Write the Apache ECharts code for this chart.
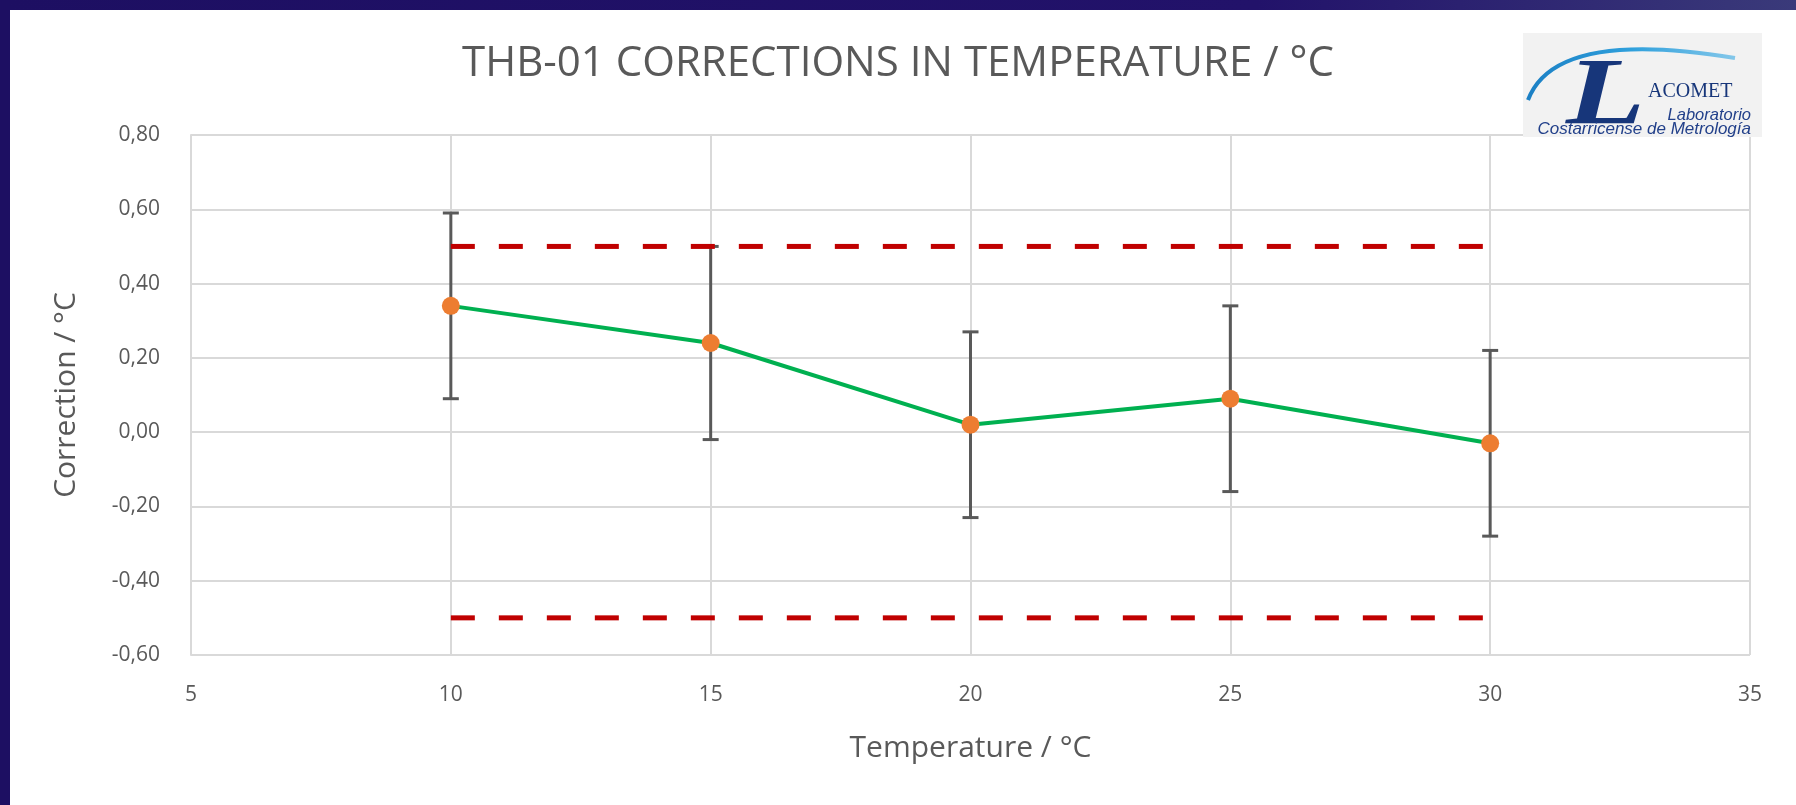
<!DOCTYPE html>
<html>
<head>
<meta charset="utf-8">
<script src="https://cdn.jsdelivr.net/npm/echarts@6/dist/echarts.min.js"></script>
<style>
html,body{margin:0;padding:0;background:#fff;}
#chart{width:1796px;height:805px;}
</style>
</head>
<body>
<div id="chart"></div>
<script>
// ---- data ----
const temperatures = [10, 15, 20, 25, 30];
const corrections = [0.34, 0.24, 0.02, 0.09, -0.03];
const uncertainties = [0.25, 0.26, 0.25, 0.25, 0.25];
const upperLimit = 0.5;
const lowerLimit = -0.5;
const titleText = 'THB-01 CORRECTIONS IN TEMPERATURE / °C';
const xAxisName = 'Temperature / °C';
const yAxisName = 'Correction / °C';

const chart = echarts.init(document.getElementById('chart'), null, {renderer: 'canvas'});

const pointData = temperatures.map((t, i) => [t, corrections[i]]);
const errorData = temperatures.map((t, i) => [t, corrections[i] - uncertainties[i], corrections[i] + uncertainties[i]]);
const xFirst = temperatures[0], xLast = temperatures[temperatures.length - 1];

const fmtY = v => (Math.abs(v) < 1e-9 ? 0 : v).toFixed(2).replace('.', ',');

const option = {
  animation: false,
  backgroundColor: '#ffffff',
  title: {
    text: titleText,
    left: 'center',
    top: 38,
    textStyle: {fontFamily: 'Open Sans', fontSize: 42, fontWeight: 'normal', color: '#595959'}
  },
  grid: {left: 191, right: 46, top: 135, height: 520},
  xAxis: {
    type: 'value', min: 5, max: 35, interval: 5,
    name: xAxisName, nameLocation: 'middle', nameGap: 78,
    nameTextStyle: {fontFamily: 'Open Sans', fontSize: 30, color: '#595959'},
    axisLine: {show: true, lineStyle: {color: '#d9d9d9', width: 2}},
    axisTick: {show: false},
    axisLabel: {margin: 30, fontFamily: 'Open Sans', fontSize: 21, color: '#595959'},
    splitLine: {show: true, lineStyle: {color: '#d9d9d9', width: 2}}
  },
  yAxis: {
    type: 'value', min: -0.6, max: 0.8, interval: 0.2,
    name: yAxisName, nameLocation: 'middle', nameGap: 110, nameRotate: 90,
    nameTextStyle: {fontFamily: 'Open Sans', fontSize: 30, color: '#595959'},
    axisLine: {show: true, lineStyle: {color: '#d9d9d9', width: 2}},
    axisTick: {show: false},
    axisLabel: {margin: 31, fontFamily: 'Open Sans', fontSize: 21, color: '#595959', formatter: fmtY},
    splitLine: {show: true, lineStyle: {color: '#d9d9d9', width: 2}}
  },
  series: [
    {
      type: 'custom',
      name: 'uncertainty',
      z: 2,
      data: errorData,
      renderItem: function (params, api) {
        const x = api.value(0);
        const lo = api.coord([x, api.value(1)]);
        const hi = api.coord([x, api.value(2)]);
        const cap = 8;
        const st = {stroke: '#595959', lineWidth: 3};
        return {
          type: 'group',
          children: [
            {type: 'line', shape: {x1: lo[0], y1: lo[1], x2: hi[0], y2: hi[1]}, style: st},
            {type: 'line', shape: {x1: hi[0] - cap, y1: hi[1], x2: hi[0] + cap, y2: hi[1]}, style: st},
            {type: 'line', shape: {x1: lo[0] - cap, y1: lo[1], x2: lo[0] + cap, y2: lo[1]}, style: st}
          ]
        };
      }
    },
    {
      type: 'line', name: 'upper', z: 3, symbol: 'none',
      data: [[xFirst, upperLimit], [xLast, upperLimit]],
      lineStyle: {color: '#c00000', width: 5, type: [24, 24]}
    },
    {
      type: 'line', name: 'lower', z: 3, symbol: 'none',
      data: [[xFirst, lowerLimit], [xLast, lowerLimit]],
      lineStyle: {color: '#c00000', width: 5, type: [24, 24]}
    },
    {
      type: 'line', name: 'correction', z: 4,
      data: pointData,
      symbol: 'circle', symbolSize: 18,
      itemStyle: {color: '#ed7d31'},
      lineStyle: {color: '#00b050', width: 4}
    }
  ],
  graphic: [
    {type: 'rect', z: 100, shape: {x: 0, y: 0, width: 1796, height: 10},
      style: {fill: new echarts.graphic.LinearGradient(0, 0, 1, 0, [
        {offset: 0, color: '#1d0f62'}, {offset: 0.7, color: '#22126a'}, {offset: 1, color: '#3a3a7a'}])}},
    {type: 'rect', z: 100, shape: {x: 0, y: 0, width: 10, height: 805}, style: {fill: '#1d0f62'}},
    // logo
    {type: 'rect', z: 50, shape: {x: 1523, y: 33, width: 239, height: 104}, style: {fill: '#f2f2f2'}},
    {type: 'bezierCurve', z: 51,
      shape: {x1: 1528, y1: 100, cpx1: 1555, cpy1: 28, x2: 1735, y2: 58},
      style: {fill: 'none', lineWidth: 4,
        stroke: new echarts.graphic.LinearGradient(0, 0, 1, 0, [
          {offset: 0, color: '#1b7fc4'}, {offset: 0.5, color: '#2fa0dc'}, {offset: 1, color: '#86c8ea'}])}},
    {type: 'text', z: 52, x: 1566, y: 0, scaleX: 1.35,
      style: {text: 'L', x: 0, y: 99, fontFamily: 'Liberation Serif', fontStyle: 'italic', fontWeight: 'bold',
      fontSize: 96, fill: '#17367a', textAlign: 'left', textVerticalAlign: 'middle'}},
    {type: 'text', z: 52, style: {text: 'ACOMET', x: 1648, y: 92, fontFamily: 'Liberation Serif', fontSize: 20,
      fill: '#17367a', textAlign: 'left', textVerticalAlign: 'middle'}},
    {type: 'text', z: 52, style: {text: 'Laboratorio', x: 1751, y: 115, fontFamily: 'Liberation Sans', fontStyle: 'italic', fontSize: 16.5,
      fill: '#22408a', textAlign: 'right', textVerticalAlign: 'middle'}},
    {type: 'text', z: 52, style: {text: 'Costarricense de Metrología', x: 1751, y: 129, fontFamily: 'Liberation Sans', fontStyle: 'italic', fontSize: 17,
      fill: '#22408a', textAlign: 'right', textVerticalAlign: 'middle'}}
  ]
};
chart.setOption(option);
</script>
</body>
</html>
